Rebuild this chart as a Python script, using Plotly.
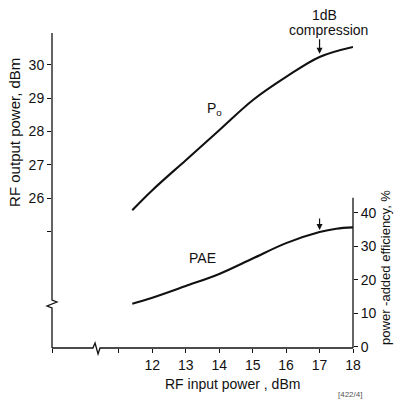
import plotly.graph_objects as go

# ---- data ----
pin_po = [11.4, 12, 13, 14, 15, 16, 17, 18]
po_dbm = [25.64, 26.24, 27.14, 28.04, 28.94, 29.64, 30.24, 30.54]

pin_pae = [11.4, 12, 13, 14, 15, 16, 17, 17.5, 18]
pae_pct = [12.9, 14.7, 18.2, 21.8, 26.4, 31.0, 34.3, 35.3, 35.7]

x_tickvals = [9, 11, 12, 13, 14, 15, 16, 17, 18]
x_ticktext = ["", "", "12", "13", "14", "15", "16", "17", "18"]
po_tickvals = [25, 26, 27, 28, 29, 30]
po_ticktext = ["", "26", "27", "28", "29", "30"]
pae_tickvals = [0, 10, 20, 30, 40]
pae_ticktext = ["0", "10", "20", "30", "40"]

compression_pin = 17

FONT = "Liberation Sans"
BLACK = "#111111"

fig = go.Figure()
fig.add_trace(go.Scatter(x=pin_po, y=po_dbm, mode="lines",
                         line=dict(color=BLACK, width=2.1, shape="spline", smoothing=1.0),
                         yaxis="y", showlegend=False, hoverinfo="skip"))
fig.add_trace(go.Scatter(x=pin_pae, y=pae_pct, mode="lines",
                         line=dict(color=BLACK, width=2.1, shape="spline", smoothing=1.0),
                         yaxis="y2", showlegend=False, hoverinfo="skip"))

tickfont = dict(family=FONT, size=14, color=BLACK)
fig.update_layout(
    width=396, height=400, autosize=False,
    margin=dict(l=52, r=43, t=33, b=52),
    paper_bgcolor="white", plot_bgcolor="white",
    xaxis=dict(range=[9, 18], tickvals=x_tickvals, ticktext=x_ticktext,
               ticks="outside", ticklen=4, tickcolor=BLACK, tickwidth=1,
               showgrid=False, zeroline=False, showline=False, tickfont=tickfont),
    yaxis=dict(range=[21.5, 30.96], tickvals=po_tickvals, ticktext=po_ticktext,
               ticks="outside", ticklen=4, tickcolor=BLACK, tickwidth=1,
               showgrid=False, zeroline=False, showline=False, tickfont=tickfont),
    yaxis2=dict(range=[-0.3, 93.7], overlaying="y", side="right", anchor="x",
                tickvals=pae_tickvals, ticktext=pae_ticktext,
                ticks="outside", ticklen=4, tickcolor=BLACK, tickwidth=1,
                showgrid=False, zeroline=False, showline=False, tickfont=tickfont),
)

# axis lines with break marks
fig.add_shape(type="path", xref="paper", yref="paper",
              path="M 0,1 L 0,0.1524 L 0.0166,0.146 L -0.0166,0.1333 L 0,0.127 L 0,0",
              line=dict(color=BLACK, width=1.3))
fig.add_shape(type="path", xref="paper", yref="paper",
              path="M 0,0 L 0.136,0 L 0.143,0.0159 L 0.153,-0.019 L 0.1595,0 L 1,0",
              line=dict(color=BLACK, width=1.3))
fig.add_shape(type="line", xref="paper", yref="y2", x0=1, x1=1, y0=-0.3, y1=44.5,
              line=dict(color=BLACK, width=1.3))

# compression arrows
po_at = po_dbm[pin_po.index(compression_pin)]
pae_at = pae_pct[pin_pae.index(compression_pin)]
fig.add_annotation(x=compression_pin, y=po_at + 0.1, xref="x", yref="y", text="",
                   showarrow=True, arrowhead=2, arrowsize=1, arrowwidth=1.2,
                   arrowcolor=BLACK, ax=0, ay=-16)
fig.add_annotation(x=compression_pin, y=pae_at + 0.6, xref="x", yref="y2", text="",
                   showarrow=True, arrowhead=2, arrowsize=1, arrowwidth=1.2,
                   arrowcolor=BLACK, ax=0, ay=-13)

C = dict(showarrow=False, xanchor="center", yanchor="middle")
lab = dict(family=FONT, size=14, color=BLACK)
fig.add_annotation(x=17.16, y=1.057, xref="x", yref="paper", text="1dB", font=lab, **C)
fig.add_annotation(x=17.28, y=1.0095, xref="x", yref="paper", text="compression",
                   font=lab, **C)
fig.add_annotation(x=13.85, y=28.68, xref="x", yref="y", text="P<sub>o</sub>",
                   font=dict(family=FONT, size=14, color=BLACK), **C)
fig.add_annotation(x=13.49, y=26.5, xref="x", yref="y2", text="PAE",
                   font=dict(family=FONT, size=14, color=BLACK), **C)

# axis titles
fig.add_annotation(x=0.601, y=-0.114, xref="paper", yref="paper",
                   text="RF input power , dBm",
                   font=dict(family=FONT, size=14, color=BLACK), **C)
fig.add_annotation(x=-0.123, y=0.686, xref="paper", yref="paper",
                   text="RF output power, dBm", textangle=-90,
                   font=dict(family=FONT, size=15, color=BLACK), **C)
fig.add_annotation(x=1.106, y=0.257, xref="paper", yref="paper",
                   text="power -added efficiency, %", textangle=-90,
                   font=dict(family=FONT, size=13, color=BLACK), **C)
fig.add_annotation(x=0.99, y=-0.149, xref="paper", yref="paper",
                   text="[422/4]",
                   font=dict(family=FONT, size=8, color="#555555"), **C)

fig.write_html("out.html", config={"displayModeBar": False},
               post_script="document.body.style.margin='0px';document.body.style.overflow='hidden';")
